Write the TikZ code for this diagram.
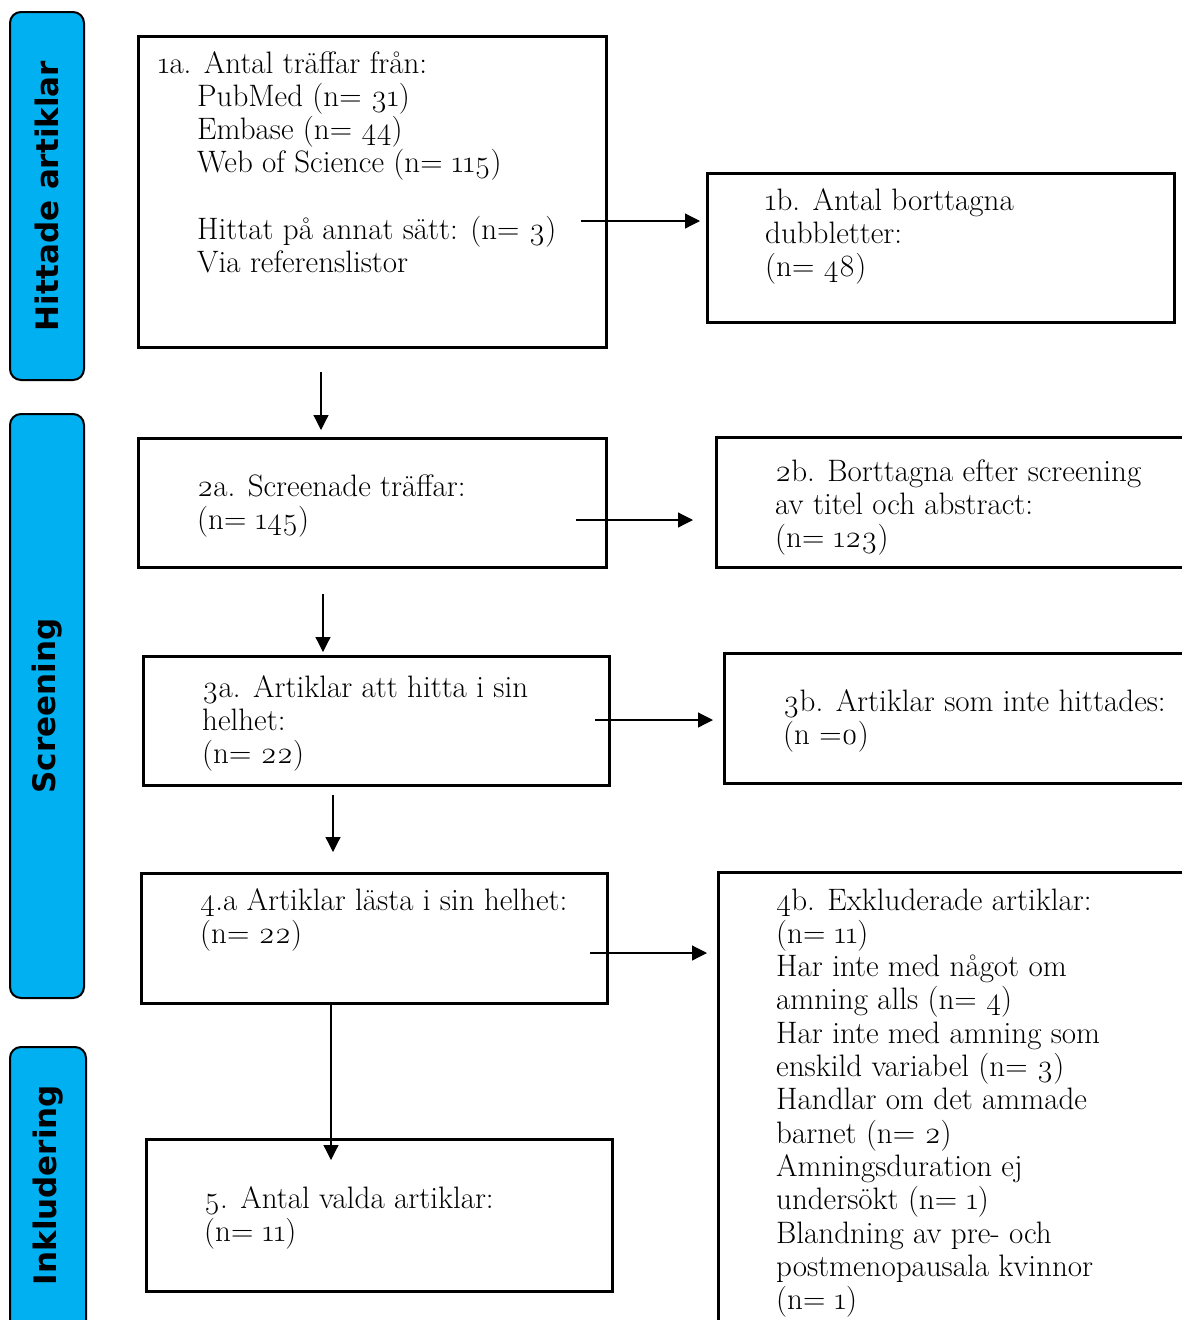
\documentclass[tikz,border=0pt]{standalone}
\usepackage{fontspec}
\setmainfont{Latin Modern Roman}[Numbers=OldStyle]
\newfontfamily\sidefont{DejaVu Sans}
\usetikzlibrary{arrows.meta}
\definecolor{barblue}{HTML}{00B0F0}
\newcommand{\lines}[1]{\begin{tabular}[t]{@{}l@{}}#1\end{tabular}}

\begin{document}
\begin{tikzpicture}[x=1pt, y=-1pt,
    box/.style={draw, line width=2.5pt, anchor=north west, inner sep=0pt},
    txt/.style={anchor=base west, inner sep=0pt, font=\fontsize{31}{33.3}\selectfont},
    bar/.style={fill=barblue, draw=black, line width=2pt, rounded corners=11pt},
    side/.style={rotate=90, inner sep=0pt, font=\sidefont\bfseries\fontsize{31}{36}\selectfont},
    arr/.style={line width=1.2pt, -{Triangle[length=15pt, width=15pt]}}]
  \useasboundingbox (0,0) rectangle (1181,1320);

  % 1. blå faser till vänster
  \path[bar] (10,12) rectangle (84,380);
  \path[bar] (10,414) rectangle (84,998);
  \path[bar] (10,1047) rectangle (86,1345);
  \node[side] (s1) at (47,196) {Hittade artiklar};
  \node[side] (s2) at (47,706) {Screening};
  \node[side] (s3) at (48,1185) {Inkludering};

  % 2. rutor
  \node[box, minimum width=468, minimum height=311] (b1a) at (137,35) {};
  \node[box, minimum width=467, minimum height=149] (b1b) at (706,172) {};
  \node[box, minimum width=468, minimum height=129] (b2a) at (137,437) {};
  \node[box, minimum width=490, minimum height=130] (b2b) at (715,436) {};
  \node[box, minimum width=466, minimum height=129] (b3a) at (142,655) {};
  \node[box, minimum width=480, minimum height=130] (b3b) at (723,652) {};
  \node[box, minimum width=466, minimum height=130] (b4a) at (140,872) {};
  \node[box, minimum width=480, minimum height=480] (b4b) at (717,871) {};
  \node[box, minimum width=466, minimum height=152] (b5) at (145,1138) {};

  % 3. texter (baslinje = första raden)
  \node[txt] (t1a) at (158,73) {\lines{1a. Antal träffar från:\\
    \hspace*{39pt}PubMed (n= 31)\\
    \hspace*{39pt}Embase (n= 44)\\
    \hspace*{39pt}Web of Science (n= 115)\\
    \\
    \hspace*{39pt}Hittat på annat sätt: (n= 3)\\
    \hspace*{39pt}Via referenslistor}};
  \node[txt] (t1b) at (765,210) {\lines{1b. Antal borttagna\\dubbletter:\\(n= 48)}};
  \node[txt] (t2a) at (197,496) {\lines{2a. Screenade träffar:\\(n= 145)}};
  \node[txt] (t2b) at (775,481) {\lines{2b. Borttagna efter screening\\av titel och abstract:\\(n= 123)}};
  \node[txt] (t3a) at (202,697) {\lines{3a. Artiklar att hitta i sin\\helhet:\\(n= 22)}};
  \node[txt] (t3b) at (783,711) {\lines{3b. Artiklar som inte hittades:\\(n =0)}};
  \node[txt] (t4a) at (200,910) {\lines{4.a Artiklar lästa i sin helhet:\\(n= 22)}};
  \node[txt] (t4b) at (776,910) {\lines{4b. Exkluderade artiklar:\\(n= 11)\\
    Har inte med något om\\amning alls (n= 4)\\
    Har inte med amning som\\enskild variabel (n= 3)\\
    Handlar om det ammade\\barnet (n= 2)\\
    Amningsduration ej\\undersökt (n= 1)\\
    Blandning av pre- och\\postmenopausala kvinnor\\(n= 1)}};
  \node[txt] (t5) at (204,1208) {\lines{5. Antal valda artiklar:\\(n= 11)}};

  % 4. pilar
  \coordinate (h1s) at (581,221);  \coordinate (h1e) at (700,221);
  \coordinate (h2s) at (576,520);  \coordinate (h2e) at (693,520);
  \coordinate (h3s) at (595,720);  \coordinate (h3e) at (713,720);
  \coordinate (h4s) at (590,953);  \coordinate (h4e) at (707,953);
  \coordinate (v1s) at (321,372);  \coordinate (v1e) at (321,430);
  \coordinate (v2s) at (323,594);  \coordinate (v2e) at (323,652);
  \coordinate (v3s) at (333,795);  \coordinate (v3e) at (333,852);
  \coordinate (v4s) at (331,1005); \coordinate (v4e) at (331,1160);
  \draw[arr] (h1s) -- (h1e);
  \draw[arr] (h2s) -- (h2e);
  \draw[arr] (h3s) -- (h3e);
  \draw[arr] (h4s) -- (h4e);
  \draw[arr] (v1s) -- (v1e);
  \draw[arr] (v2s) -- (v2e);
  \draw[arr] (v3s) -- (v3e);
  \draw[arr] (v4s) -- (v4e);
\end{tikzpicture}
\end{document}
